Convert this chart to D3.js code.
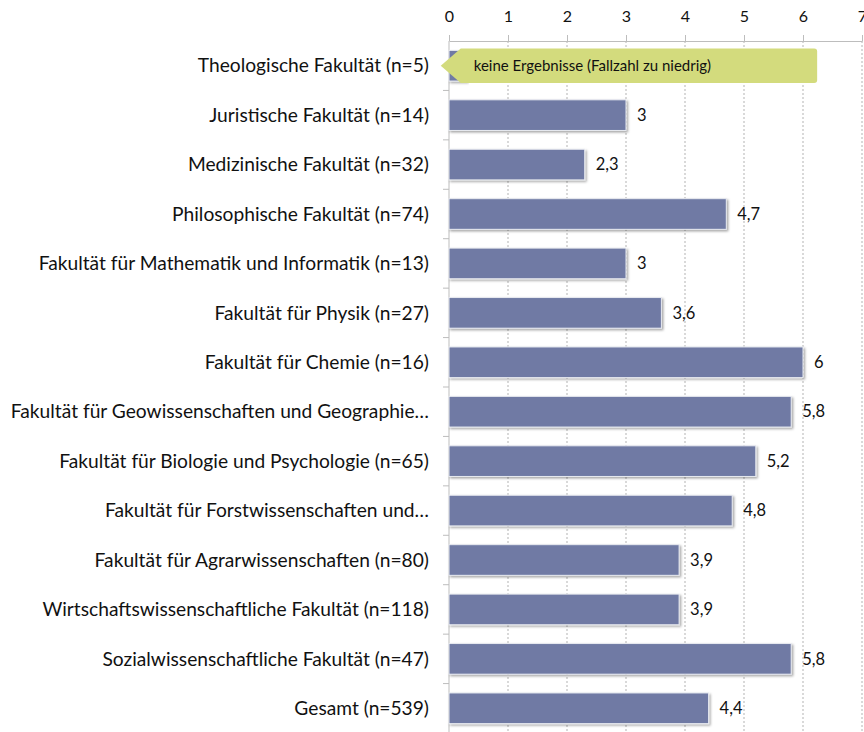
<!DOCTYPE html>
<html><head><meta charset="utf-8">
<script src="https://cdn.jsdelivr.net/npm/d3@7"></script>
<style>
body{margin:0;background:#fff;}
svg{display:block;font-family:Lato,"Open Sans",sans-serif;}
</style></head>
<body><svg id="c" width="864" height="732"></svg>
<script>
const categories = [
  "Theologische Fakultät (n=5)",
  "Juristische Fakultät (n=14)",
  "Medizinische Fakultät (n=32)",
  "Philosophische Fakultät (n=74)",
  "Fakultät für Mathematik und Informatik (n=13)",
  "Fakultät für Physik (n=27)",
  "Fakultät für Chemie (n=16)",
  "Fakultät für Geowissenschaften und Geographie…",
  "Fakultät für Biologie und Psychologie (n=65)",
  "Fakultät für Forstwissenschaften und…",
  "Fakultät für Agrarwissenschaften (n=80)",
  "Wirtschaftswissenschaftliche Fakultät (n=118)",
  "Sozialwissenschaftliche Fakultät (n=47)",
  "Gesamt (n=539)"
];
const values = [0.3, 3, 2.3, 4.7, 3, 3.6, 6, 5.8, 5.2, 4.8, 3.9, 3.9, 5.8, 4.4];
const valueLabels = ["", "3", "2,3", "4,7", "3", "3,6", "6", "5,8", "5,2", "4,8", "3,9", "3,9", "5,8", "4,4"];
const tickValues = [0, 1, 2, 3, 4, 5, 6, 7];
const calloutText = "keine Ergebnisse (Fallzahl zu niedrig)";
const calloutRange = [-0.14, 6.24];

const svg = d3.select("#c");
const x = d3.scaleLinear().domain([0, 7]).range([449, 862]);
const y = d3.scaleBand().domain(categories).range([41, 733]).paddingInner(0.38).paddingOuter(0.19);

const defs = svg.append("defs");
const f = defs.append("filter").attr("id", "sh").attr("x", "-5%").attr("y", "-20%").attr("width", "115%").attr("height", "160%");
f.append("feDropShadow").attr("dx", 1.5).attr("dy", 1.5).attr("stdDeviation", 1.2).attr("flood-color", "#000").attr("flood-opacity", 0.35);

// gridlines
svg.append("g").selectAll("line").data(tickValues.slice(1)).join("line")
  .attr("x1", d => x(d)).attr("x2", d => x(d)).attr("y1", 41).attr("y2", 732)
  .attr("stroke", "#b3b3b3").attr("stroke-width", 1).attr("stroke-dasharray", "2,2");

// top axis
const ax = svg.append("g").attr("transform", "translate(0,41)")
  .call(d3.axisTop(x).tickValues(tickValues).tickFormat(d3.format("d")).tickSize(6).tickPadding(13).tickSizeOuter(0));
ax.select(".domain").attr("stroke", "#bdbdbd");
ax.selectAll(".tick line").attr("stroke", "#bdbdbd");
ax.selectAll("text").attr("font-size", 16).attr("fill", "#111").style("font-family", "Lato, sans-serif");

// left axis
const ay = svg.append("g").attr("transform", "translate(449,0)");
ay.append("line").attr("x1", 0).attr("x2", 0).attr("y1", 41).attr("y2", 732).attr("stroke", "#bdbdbd");
const bounds = categories.map((c, i) => y(c) - y.step() * y.paddingInner() / 2);
ay.selectAll("line.t").data(bounds.slice(1)).join("line").attr("class", "t")
  .attr("x1", -6).attr("x2", 0).attr("y1", d => d).attr("y2", d => d).attr("stroke", "#bdbdbd");
ay.selectAll("text").data(categories).join("text")
  .attr("x", -20).attr("y", d => y(d) + y.bandwidth() / 2).attr("dy", "0.35em")
  .attr("text-anchor", "end").attr("font-size", 19.2).attr("fill", "#111").text(d => d);

// bars
svg.append("g").selectAll("rect").data(categories).join("rect")
  .attr("x", x(0)).attr("y", d => y(d))
  .attr("width", (d, i) => x(values[i]) - x(0)).attr("height", y.bandwidth())
  .attr("fill", "#6f7aa4").attr("stroke", "#e8eaf0").attr("stroke-width", 1)
  .attr("filter", "url(#sh)");

// value labels
svg.append("g").selectAll("text").data(categories).join("text")
  .attr("x", (d, i) => x(values[i]) + 11).attr("y", d => y(d) + y.bandwidth() / 2).attr("dy", "0.35em")
  .attr("font-size", 16.5).attr("fill", "#111").text((d, i) => valueLabels[i]);

// callout
const c0 = categories[0];
const cy0 = y(c0) - 2, cy1 = y(c0) + y.bandwidth() + 2, cm = (cy0 + cy1) / 2;
const xl = x(calloutRange[0]), xn = xl + 20, xr = x(calloutRange[1]), r = 3;
const path = `M${xl},${cm} L${xn},${cy0} L${xr - r},${cy0} Q${xr},${cy0} ${xr},${cy0 + r} L${xr},${cy1 - r} Q${xr},${cy1} ${xr - r},${cy1} L${xn},${cy1} Z`;
svg.append("path").attr("d", path).attr("fill", "#d3db7d");
svg.append("text").attr("x", xn + 13).attr("y", cm).attr("dy", "0.35em")
  .attr("font-size", 15).attr("fill", "#111").text(calloutText);
</script></body></html>
